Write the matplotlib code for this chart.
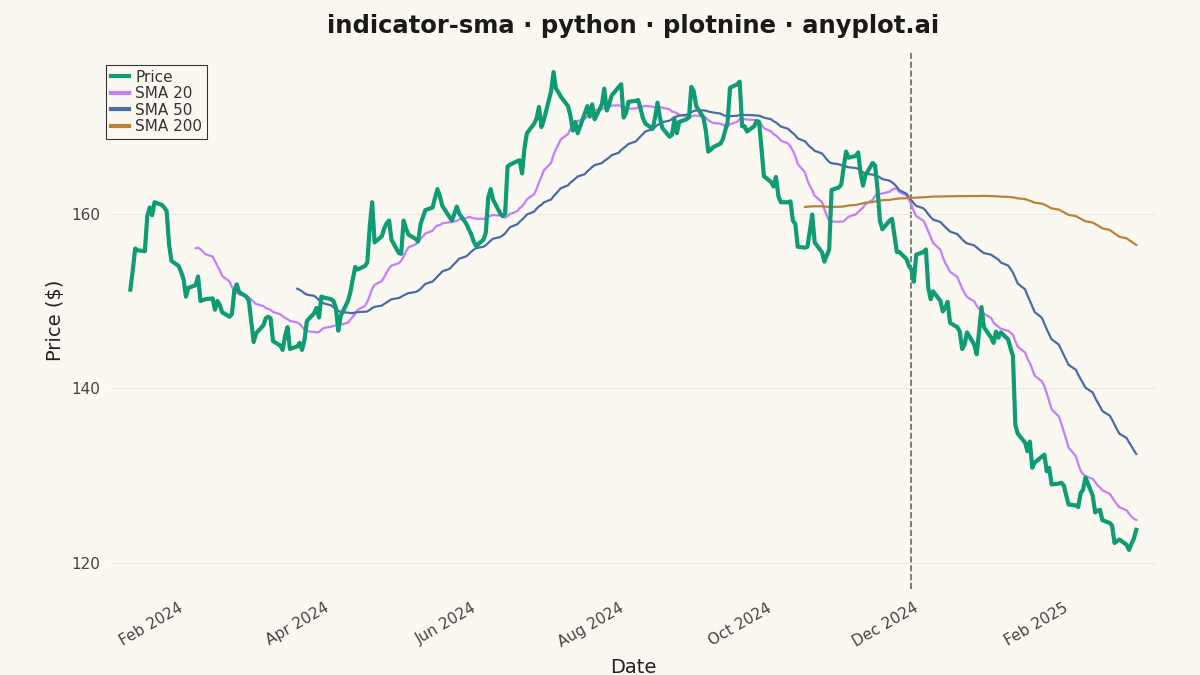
import matplotlib
matplotlib.use("Agg")
import matplotlib.pyplot as plt
import matplotlib.dates as mdates
import numpy as np
import pandas as pd

start_date = "2024-01-09"
price = [
151.3,153.5,156.0,155.8,155.7,159.7,160.7,159.8,161.3,161.0,160.7,160.3,156.5,154.6,154.0,153.3,152.5,150.5,151.5,151.8,
152.8,150.0,150.1,150.2,150.3,149.0,150.0,149.5,148.7,148.2,148.5,151.2,151.9,151.0,150.5,150.0,147.7,145.3,146.3,147.2,
148.0,148.2,148.0,145.4,144.9,144.4,146.0,147.0,144.5,144.8,145.2,144.4,145.5,147.7,148.6,149.2,148.1,150.5,150.4,150.2,
150.0,149.2,146.6,148.3,150.0,151.0,152.5,153.9,153.6,154.0,154.4,158.5,161.3,156.7,157.4,158.3,158.9,159.2,157.0,155.5,
155.4,159.2,158.3,157.6,157.1,156.8,158.8,159.6,160.4,160.7,161.8,162.8,162.0,160.9,159.6,159.2,160.0,160.8,160.0,158.8,
158.2,157.6,156.8,156.3,157.0,157.8,161.8,162.8,161.6,160.0,159.7,160.0,165.4,165.6,166.0,166.1,164.6,167.5,169.2,170.3,
170.9,172.2,169.9,170.7,174.0,176.2,174.3,173.9,173.4,172.3,171.2,169.5,170.5,169.2,171.5,172.3,171.1,172.5,170.8,172.5,
174.3,171.8,172.5,173.5,174.5,174.8,171.0,171.5,172.8,172.9,173.0,172.0,170.9,170.3,169.7,171.0,172.7,171.0,169.8,168.8,
169.0,170.8,169.2,170.5,170.8,171.0,174.5,174.0,172.3,171.0,169.5,167.1,167.3,167.6,168.0,168.5,169.5,170.5,174.4,174.8,
175.1,170.0,170.0,169.4,170.0,170.6,170.5,167.5,164.3,163.6,163.1,164.2,162.0,161.3,161.3,161.4,159.2,158.8,156.2,156.1,
156.2,158.0,159.9,156.7,155.6,154.5,155.2,155.9,162.7,163.0,163.3,165.3,167.1,166.4,166.6,167.0,164.6,163.2,164.4,165.8,
165.5,162.8,159.2,158.2,159.2,159.4,157.5,155.6,155.6,154.8,154.0,153.6,152.2,155.3,155.6,155.9,151.5,150.2,151.1,150.0,
148.8,149.2,149.9,147.5,147.0,146.5,144.5,145.0,146.4,145.0,143.9,146.5,149.3,147.0,145.8,145.2,146.5,145.8,146.4,145.6,
144.6,143.7,135.8,134.8,133.8,132.8,133.9,130.9,131.5,132.2,132.4,130.5,130.9,129.0,129.1,129.2,128.9,127.8,126.7,126.6,
126.4,128.0,128.4,129.8,127.7,125.8,126.0,126.1,124.9,124.6,124.3,122.3,122.5,122.7,122.1,121.5,122.2,122.8,123.8,
]
sma_windows = [20, 50, 200]
sma_labels = ["SMA 20", "SMA 50", "SMA 200"]
y_ticks = [120, 140, 160]

dates = pd.bdate_range(start=start_date, periods=len(price))
s = pd.Series(price, index=dates)
smas = [s.rolling(w).mean() for w in sma_windows]

# death cross: SMA50 falls below SMA200
d = smas[1] - smas[2]
valid = d.dropna()
cross = valid[(valid.shift(1) > 0) & (valid <= 0)]
cross_date = cross.index[0] if len(cross) else None

bg = "#FAF8F1"
fig, ax = plt.subplots(figsize=(12, 6.75), dpi=100)
fig.patch.set_facecolor(bg)
ax.set_facecolor(bg)

ax.plot(dates, price, color="#0E9C74", lw=3.0, label="Price", zorder=3)
colors = ["#C77DFF", "#4A6BA8", "#BD8233"]
for sm, lab, c in zip(smas, sma_labels, colors):
    ax.plot(dates, sm.values, color=c, lw=1.6, label=lab, zorder=2)
if cross_date is not None:
    ax.axvline(cross_date, color="#666666", ls="--", lw=1.2, zorder=1)

ax.set_ylim(117, 178.5)
ax.set_yticks(y_ticks)
ax.grid(axis="y", color="#ECE9E1", lw=0.8)
ax.grid(axis="x", visible=False)
for sp in ax.spines.values():
    sp.set_visible(False)
ax.tick_params(length=0, labelsize=11, colors="#444444", pad=8)
ax.xaxis.set_major_locator(mdates.MonthLocator(bymonth=[2, 4, 6, 8, 10, 12]))
ax.xaxis.set_major_formatter(mdates.DateFormatter("%b %Y"))
plt.setp(ax.get_xticklabels(), rotation=30, ha="right")
ax.set_xlim(dates[0] - pd.Timedelta(days=8), dates[-1] + pd.Timedelta(days=8))

ax.set_xlabel("Date", fontsize=14, color="#222222", labelpad=6)
ax.set_ylabel("Price ($)", fontsize=14, color="#222222")
ax.set_title("indicator-sma · python · plotnine · anyplot.ai", fontsize=17.5,
             fontweight="bold", color="#1a1a1a", pad=14)
leg = ax.legend(loc="upper left", bbox_to_anchor=(-0.012, 0.99), fontsize=11, frameon=True,
                fancybox=False, edgecolor="#333333", facecolor=bg, framealpha=1,
                borderpad=0.3, labelspacing=0.1, handlelength=1.2, handletextpad=0.4,
                labelcolor="#333333")
leg.get_frame().set_linewidth(0.8)
for h in leg.get_lines():
    h.set_linewidth(3)

fig.subplots_adjust(left=0.0925, right=0.963, top=0.923, bottom=0.127)
fig.savefig("out.png", dpi=100, facecolor=bg)
